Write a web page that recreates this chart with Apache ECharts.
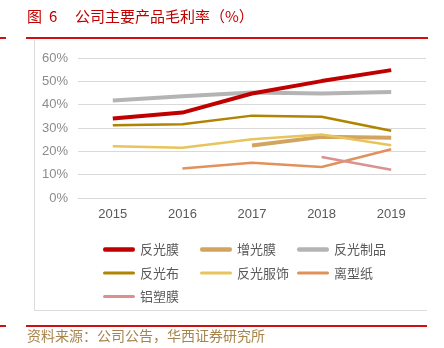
<!DOCTYPE html>
<html><head><meta charset="utf-8">
<script src="https://cdn.jsdelivr.net/npm/echarts@6/dist/echarts.min.js"></script>
<style>html,body{margin:0;padding:0;background:#fff;}#c{width:444px;height:348px;}</style>
</head><body><div id="c"></div>
<script>
const years = ['2015','2016','2017','2018','2019'];
const fanguangmo = [34.1, 36.6, 44.8, 50.1, 54.8];
const zengguangmo = [null, null, 22.5, 26.2, 25.8];
const fanguangzhipin = [41.8, 43.6, 45.2, 44.8, 45.4];
const fanguangbu = [31.2, 31.6, 35.3, 34.8, 28.8];
const fanguangfushi = [22.2, 21.5, 25.2, 27.2, 22.6];
const lixingzhi = [null, 12.6, 15.1, 13.3, 20.9];
const lvsumo = [null, null, null, 17.6, 12.1];
const yTicks = [0, 10, 20, 30, 40, 50, 60];

const names = ['反光膜','增光膜','反光制品','反光布','反光服饰','离型纸','铝塑膜'];
const datas = [fanguangmo, zengguangmo, fanguangzhipin, fanguangbu, fanguangfushi, lixingzhi, lvsumo];
const colors = ['#c00000','#d2a460','#b4b4b4','#b08400','#e8c45c','#e0915c','#d9928f'];
const widths = [4, 4, 4, 2.5, 2.5, 2.5, 2.5];
const drawOrder = [2, 1, 3, 4, 5, 6, 0];

const font = '"Noto Sans CJK SC", "Noto Sans", sans-serif';
const chart = echarts.init(document.getElementById('c'), null, {renderer: 'canvas'});
const series = drawOrder.map(i => ({
  name: names[i], type: 'line', data: datas[i], showSymbol: false, symbol: 'none',
  lineStyle: {color: colors[i], width: widths[i]}, itemStyle: {color: colors[i]},
  z: 2 + drawOrder.indexOf(i)
}));
const thickIcon = 'path://M2,0 L30,0 Q32,0 32,2.25 Q32,4.5 30,4.5 L2,4.5 Q0,4.5 0,2.25 Q0,0 2,0 Z';
const thinIcon = 'path://M1.5,0 L30.5,0 Q32,0 32,1.5 Q32,3 30.5,3 L1.5,3 Q0,3 0,1.5 Q0,0 1.5,0 Z';
function li(i) { return {name: names[i], icon: widths[i] > 3 ? thickIcon : thinIcon}; }
const legendBase = {
  orient: 'vertical', itemWidth: 32, itemHeight: 12, itemGap: 10.5,
  textStyle: {color: '#595959', fontSize: 13, fontFamily: font}
};
chart.setOption({
  animation: false,
  grid: {left: 78, right: 18, top: 58, bottom: 150},
  xAxis: {type: 'category', data: years, boundaryGap: true,
    axisLine: {show: true, lineStyle: {color: '#d9d9d9'}}, axisTick: {show: false},
    axisLabel: {color: '#595959', fontSize: 13, fontFamily: 'Liberation Sans, Arial', margin: 10}},
  yAxis: {type: 'value', min: yTicks[0], max: yTicks[yTicks.length-1], interval: 10,
    axisLine: {show: false}, axisTick: {show: false},
    splitLine: {lineStyle: {color: '#d9d9d9', width: 1}},
    axisLabel: {color: '#8c8c8c', fontSize: 13, fontFamily: 'Liberation Sans, Arial', margin: 10, formatter: '{value}%'}},
  legend: [
    Object.assign({}, legendBase, {left: 98, top: 238, data: [li(0), li(3), li(6)]}),
    Object.assign({}, legendBase, {left: 195, top: 238, data: [li(1), li(4)]}),
    Object.assign({}, legendBase, {left: 292, top: 238, data: [li(2), li(5)]})
  ],
  series: series,
  graphic: [
    {type: 'text', left: 27, top: 9, style: {text: '图', fill: '#c00000', fontSize: 15, fontFamily: font}},
    {type: 'text', left: 49, top: 9, style: {text: '6', fill: '#c00000', fontSize: 15, fontFamily: font}},
    {type: 'text', left: 75, top: 9, style: {text: '公司主要产品毛利率（%）', fill: '#c00000', fontSize: 15, fontFamily: font}},
    {type: 'rect', shape: {x: 26, y: 37, width: 402, height: 2}, style: {fill: '#d01010'}},
    {type: 'rect', shape: {x: 0, y: 37, width: 6, height: 2}, style: {fill: '#d01010'}},
    {type: 'rect', shape: {x: 34, y: 40, width: 1, height: 271}, style: {fill: '#dcdcdc'}},
    {type: 'rect', shape: {x: 34, y: 310, width: 393, height: 1}, style: {fill: '#dcdcdc'}},
    {type: 'rect', shape: {x: 26, y: 325, width: 401, height: 2}, style: {fill: '#d01010'}},
    {type: 'rect', shape: {x: 0, y: 325, width: 6, height: 2}, style: {fill: '#d01010'}},
    {type: 'text', left: 27, top: 329, style: {text: '资料来源：公司公告，华西证券研究所', fill: '#a8844c', fontSize: 14, fontFamily: font}}
  ]
});
</script></body></html>
